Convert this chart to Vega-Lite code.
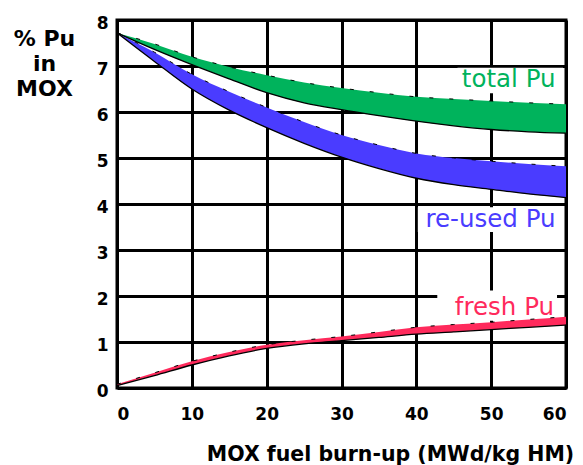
{
  "$schema": "https://vega.github.io/schema/vega-lite/v6.json",
  "width": 449,
  "height": 368,
  "autosize": {"type": "none"},
  "padding": {"left": 117, "top": 20, "right": 17, "bottom": 77},
  "background": "white",
  "config": {
    "view": {"stroke": "black", "strokeWidth": 3},
    "axis": {
      "domain": false,
      "ticks": false,
      "grid": true,
      "gridColor": "black",
      "gridWidth": 3,
      "gridOpacity": 1,
      "labelFont": "DejaVu Sans",
      "labelFontWeight": "bold",
      "labelFontSize": 17,
      "labelColor": "black",
      "titleFont": "DejaVu Sans",
      "titleFontWeight": "bold",
      "titleColor": "black"
    }
  },
  "datasets": {
    "bands": [
      {"series": "total Pu", "x": 0, "lo": 7.72, "hi": 7.72},
      {"series": "total Pu", "x": 5, "lo": 7.36, "hi": 7.48},
      {"series": "total Pu", "x": 10, "lo": 7.03, "hi": 7.2},
      {"series": "total Pu", "x": 15, "lo": 6.72, "hi": 6.98},
      {"series": "total Pu", "x": 20, "lo": 6.42, "hi": 6.8},
      {"series": "total Pu", "x": 25, "lo": 6.2, "hi": 6.64},
      {"series": "total Pu", "x": 30, "lo": 6.05, "hi": 6.52},
      {"series": "total Pu", "x": 35, "lo": 5.92, "hi": 6.42},
      {"series": "total Pu", "x": 40, "lo": 5.8, "hi": 6.33},
      {"series": "total Pu", "x": 45, "lo": 5.7, "hi": 6.28},
      {"series": "total Pu", "x": 50, "lo": 5.62, "hi": 6.24},
      {"series": "total Pu", "x": 55, "lo": 5.57, "hi": 6.2},
      {"series": "total Pu", "x": 60, "lo": 5.54, "hi": 6.17},
      {"series": "re-used Pu", "x": 0, "lo": 7.72, "hi": 7.72},
      {"series": "re-used Pu", "x": 5, "lo": 7.1, "hi": 7.3},
      {"series": "re-used Pu", "x": 10, "lo": 6.5, "hi": 6.82},
      {"series": "re-used Pu", "x": 15, "lo": 6.04, "hi": 6.44},
      {"series": "re-used Pu", "x": 20, "lo": 5.66, "hi": 6.1},
      {"series": "re-used Pu", "x": 25, "lo": 5.32, "hi": 5.78},
      {"series": "re-used Pu", "x": 30, "lo": 5.02, "hi": 5.5},
      {"series": "re-used Pu", "x": 35, "lo": 4.77, "hi": 5.28},
      {"series": "re-used Pu", "x": 40, "lo": 4.56, "hi": 5.1},
      {"series": "re-used Pu", "x": 45, "lo": 4.42, "hi": 5.0},
      {"series": "re-used Pu", "x": 50, "lo": 4.32, "hi": 4.93},
      {"series": "re-used Pu", "x": 55, "lo": 4.22, "hi": 4.87},
      {"series": "re-used Pu", "x": 60, "lo": 4.14, "hi": 4.82},
      {"series": "fresh Pu", "x": 0, "lo": 0.05, "hi": 0.08},
      {"series": "fresh Pu", "x": 5, "lo": 0.27, "hi": 0.33},
      {"series": "fresh Pu", "x": 10, "lo": 0.5, "hi": 0.58},
      {"series": "fresh Pu", "x": 15, "lo": 0.7, "hi": 0.78},
      {"series": "fresh Pu", "x": 20, "lo": 0.86, "hi": 0.94},
      {"series": "fresh Pu", "x": 25, "lo": 0.96, "hi": 1.04},
      {"series": "fresh Pu", "x": 30, "lo": 1.03, "hi": 1.12},
      {"series": "fresh Pu", "x": 35, "lo": 1.1, "hi": 1.22},
      {"series": "fresh Pu", "x": 40, "lo": 1.17, "hi": 1.32},
      {"series": "fresh Pu", "x": 45, "lo": 1.22, "hi": 1.38},
      {"series": "fresh Pu", "x": 50, "lo": 1.27, "hi": 1.43},
      {"series": "fresh Pu", "x": 55, "lo": 1.32, "hi": 1.49},
      {"series": "fresh Pu", "x": 60, "lo": 1.37, "hi": 1.55}
    ],
    "labels": [
      {"series": "total Pu", "x": 58.6, "y": 6.7},
      {"series": "re-used Pu", "x": 58.6, "y": 3.66},
      {"series": "fresh Pu", "x": 58.4, "y": 1.74}
    ],
    "boxes": [
      {"x": 45.5, "x2": 59.6, "y": 6.41, "y2": 6.96},
      {"x": 40.2, "x2": 59.6, "y": 3.39, "y2": 3.93},
      {"x": 42.8, "x2": 58.8, "y": 1.46, "y2": 2.12}
    ]
  },
  "layer": [
    {
      "data": {"name": "boxes"},
      "mark": {"type": "rect", "color": "white"},
      "encoding": {
        "x": {"field": "x", "type": "quantitative", "scale": {"domain": [0, 60], "nice": false},
              "axis": {"values": [0, 10, 20, 30, 40, 50, 60], "labelPadding": 18,
                       "title": "MOX fuel burn-up (MWd/kg HM)", "titleFontSize": 20.5,
                       "titleX": 273, "titleY": 72, "titleBaseline": "alphabetic", "titleAlign": "center", "titleAnchor": null}},
        "x2": {"field": "x2"},
        "y": {"field": "y", "type": "quantitative", "scale": {"domain": [0, 8], "nice": false},
              "axis": {"values": [0, 1, 2, 3, 4, 5, 6, 7, 8], "labelPadding": 9, "labelOffset": 3,
                       "title": ["% Pu", "in", "MOX"], "titleAngle": 0, "titleFontSize": 22,
                       "titleLineHeight": 25, "titleX": -73, "titleY": 8, "titleBaseline": "top", "titleAlign": "center", "titleAnchor": null}},
        "y2": {"field": "y2"}
      }
    },
    {
      "data": {"name": "bands"},
      "mark": {"type": "area", "opacity": 1, "interpolate": "monotone"},
      "encoding": {
        "x": {"field": "x", "type": "quantitative"},
        "y": {"field": "hi", "type": "quantitative"},
        "y2": {"field": "lo"},
        "color": {"field": "series", "type": "nominal", "legend": null,
                  "scale": {"domain": ["total Pu", "re-used Pu", "fresh Pu"], "range": ["#00b35c", "#4a3cff", "#ff2a5c"]}}
      }
    },
    {
      "data": {"name": "bands"},
      "mark": {"type": "line", "color": "black", "strokeWidth": 1.3, "interpolate": "monotone"},
      "encoding": {
        "x": {"field": "x", "type": "quantitative"},
        "y": {"field": "lo", "type": "quantitative"},
        "detail": {"field": "series"}
      }
    },
    {
      "data": {"name": "bands"},
      "mark": {"type": "line", "color": "black", "strokeWidth": 1, "strokeDash": [4, 16], "interpolate": "monotone"},
      "encoding": {
        "x": {"field": "x", "type": "quantitative"},
        "y": {"field": "hi", "type": "quantitative"},
        "detail": {"field": "series"}
      }
    },
    {
      "data": {"name": "labels"},
      "mark": {"type": "text", "align": "right", "baseline": "middle", "font": "DejaVu Sans", "fontSize": 24.5},
      "encoding": {
        "x": {"field": "x", "type": "quantitative"},
        "y": {"field": "y", "type": "quantitative"},
        "text": {"field": "series"},
        "color": {"field": "series", "type": "nominal", "legend": null}
      }
    }
  ]
}
